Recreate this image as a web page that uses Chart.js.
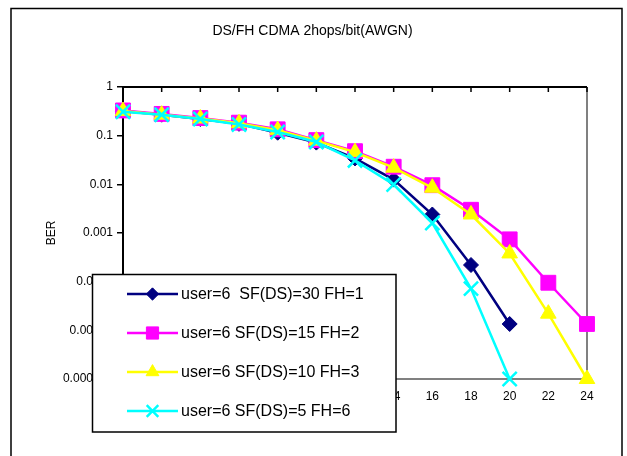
<!DOCTYPE html>
<html>
<head>
<meta charset="utf-8">
<script src="https://cdn.jsdelivr.net/npm/chart.js@4/dist/chart.umd.min.js"></script>
<style>
  html, body { margin: 0; padding: 0; background: #fff; }
  #wrap { width: 627px; height: 456px; }
</style>
</head>
<body>
<div id="wrap"><canvas id="ber-chart" width="627" height="456"></canvas></div>
<script>
// x values (Eb/No steps) and BER per series
const xValues = [0, 2, 4, 6, 8, 10, 12, 14, 16, 18, 20, 22, 24];
const berSF30 = [0.32, 0.27, 0.22, 0.175, 0.115, 0.072, 0.034, 0.0125, 0.0024, 0.00022, 0.0000135];
const berSF15 = [0.33, 0.28, 0.23, 0.185, 0.135, 0.081, 0.048, 0.023, 0.0096, 0.003, 0.00074, 0.000095, 0.0000135];
const berSF10 = [0.32, 0.27, 0.225, 0.18, 0.13, 0.079, 0.046, 0.022, 0.0085, 0.0024, 0.00038, 0.000022, 0.000001];
const berSF5 = [0.31, 0.27, 0.22, 0.17, 0.119, 0.074, 0.031, 0.0099, 0.0016, 0.000072, 0.000001];
const seriesNames = [
    'user=6  SF(DS)=30 FH=1',
    'user=6 SF(DS)=15 FH=2',
    'user=6 SF(DS)=10 FH=3',
    'user=6 SF(DS)=5 FH=6'
];
const yTickValues = [1, 0.1, 0.01, 0.001, 0.0001, 0.00001, 0.000001];
const yTickLabels = ['1', '0.1', '0.01', '0.001', '0.0001', '0.00001', '0.000001'];

const toPoints = (ys) => ys.map((y, i) => ({ x: xValues[i], y: y }));

const styles = [
    { color: '#000080', pointStyle: 'rectRot', radius: 7.5, pw: 1, order: 4 },
    { color: '#FF00FF', pointStyle: 'rect', radius: 10.5, pw: 1, order: 3 },
    { color: '#FFFF00', pointStyle: 'triangle', radius: 9, pw: 1, order: 2 },
    { color: '#00FFFF', pointStyle: 'crossRot', radius: 10, pw: 2.5, order: 1 }
];
const allSeries = [berSF30, berSF15, berSF10, berSF5];

const datasets = allSeries.map((ys, i) => ({
    label: seriesNames[i],
    data: toPoints(ys),
    borderColor: styles[i].color,
    backgroundColor: styles[i].color,
    pointBackgroundColor: styles[i].color,
    pointBorderColor: styles[i].color,
    pointStyle: styles[i].pointStyle,
    pointRadius: styles[i].radius,
    pointBorderWidth: styles[i].pw,
    borderWidth: 2.5,
    tension: 0,
    clip: false,
    order: styles[i].order
}));

const FONT = 'Liberation Sans, Arial, sans-serif';

const framePlugin = {
    id: 'frame',
    beforeDraw(chart) {
        const ctx = chart.ctx;
        ctx.save();
        ctx.fillStyle = '#fff';
        ctx.fillRect(0, 0, chart.width, chart.height);
        ctx.strokeStyle = '#000';
        ctx.lineWidth = 1.5;
        ctx.strokeRect(11, 8.5, 611, 500);
        ctx.restore();
    },
    beforeDatasetsDraw(chart) {
        const { ctx, chartArea: a, scales } = chart;
        ctx.save();
        // grey plot border on bottom and right
        ctx.strokeStyle = '#808080';
        ctx.lineWidth = 2;
        ctx.beginPath();
        ctx.moveTo(a.left, a.bottom);
        ctx.lineTo(a.right, a.bottom);
        ctx.lineTo(a.right, a.top);
        ctx.stroke();
        // x axis crosses at BER=1, so its line and ticks sit on top
        ctx.strokeStyle = '#000';
        ctx.lineWidth = 2;
        ctx.beginPath();
        ctx.moveTo(a.left - 1, a.top);
        ctx.lineTo(a.right, a.top);
        ctx.stroke();
        ctx.lineWidth = 1.5;
        ctx.beginPath();
        scales.x.ticks.forEach(t => {
            const px = scales.x.getPixelForValue(t.value);
            ctx.moveTo(px, a.top);
            ctx.lineTo(px, a.top + 5);
        });
        ctx.stroke();
        ctx.restore();
    },
    afterDraw(chart) {
        const ctx = chart.ctx;
        const box = { x: 92.5, y: 274.5, w: 303.5, h: 157.5 };
        ctx.save();
        ctx.fillStyle = '#fff';
        ctx.fillRect(box.x, box.y, box.w, box.h);
        ctx.strokeStyle = '#000';
        ctx.lineWidth = 1.5;
        ctx.strokeRect(box.x, box.y, box.w, box.h);
        const rowY = [294, 333, 372, 411];
        chart.data.datasets.forEach((ds, i) => {
            const y = rowY[i];
            ctx.strokeStyle = ds.borderColor;
            ctx.lineWidth = 2.5;
            ctx.beginPath();
            ctx.moveTo(127, y);
            ctx.lineTo(178, y);
            ctx.stroke();
            ctx.fillStyle = ds.borderColor;
            ctx.lineWidth = ds.pointBorderWidth;
            Chart.helpers.drawPoint(ctx, {
                pointStyle: ds.pointStyle,
                radius: ds.pointRadius * 0.82,
                rotation: 0,
                borderWidth: ds.pointBorderWidth
            }, 152.5, y);
            ctx.fillStyle = '#000';
            ctx.font = '16px ' + FONT;
            ctx.textBaseline = 'middle';
            ctx.textAlign = 'left';
            ctx.fillText(ds.label, 181, y + 1);
        });
        ctx.restore();
    }
};

new Chart(document.getElementById('ber-chart'), {
    type: 'line',
    data: { datasets: datasets },
    options: {
        responsive: false,
        animation: false,
        layout: { padding: { left: 38, right: 40, top: 0, bottom: 0 } },
        plugins: {
            legend: { display: false },
            tooltip: { enabled: false },
            title: {
                display: true,
                text: 'DS/FH CDMA 2hops/bit(AWGN)',
                color: '#000',
                font: { family: FONT, size: 14, weight: 'normal', lineHeight: 1.2 },
                padding: { top: 23, bottom: 47.2 }
            }
        },
        scales: {
            x: {
                type: 'linear',
                min: 0,
                max: 24,
                ticks: { stepSize: 2, color: '#000', padding: 2, font: { family: FONT, size: 12 } },
                grid: { display: false },
                border: { display: false },
                afterFit: (s) => { s.height = 77; }
            },
            y: {
                type: 'logarithmic',
                min: 0.000001,
                max: 1,
                afterBuildTicks: (s) => { s.ticks = yTickValues.map(v => ({ value: v })); },
                ticks: {
                    color: '#000',
                    padding: 4,
                    font: { family: FONT, size: 12 },
                    callback: (v, i) => yTickLabels[i]
                },
                grid: { drawOnChartArea: false, tickLength: 6, color: '#000', lineWidth: 1.5 },
                border: { color: '#000', width: 2 },
                title: {
                    display: true,
                    text: 'BER',
                    color: '#000',
                    font: { family: FONT, size: 12 },
                    padding: { top: 6.8, bottom: 0 }
                },
                afterFit: (s) => { s.width = 85; }
            }
        }
    },
    plugins: [framePlugin]
});
</script>
</body>
</html>
